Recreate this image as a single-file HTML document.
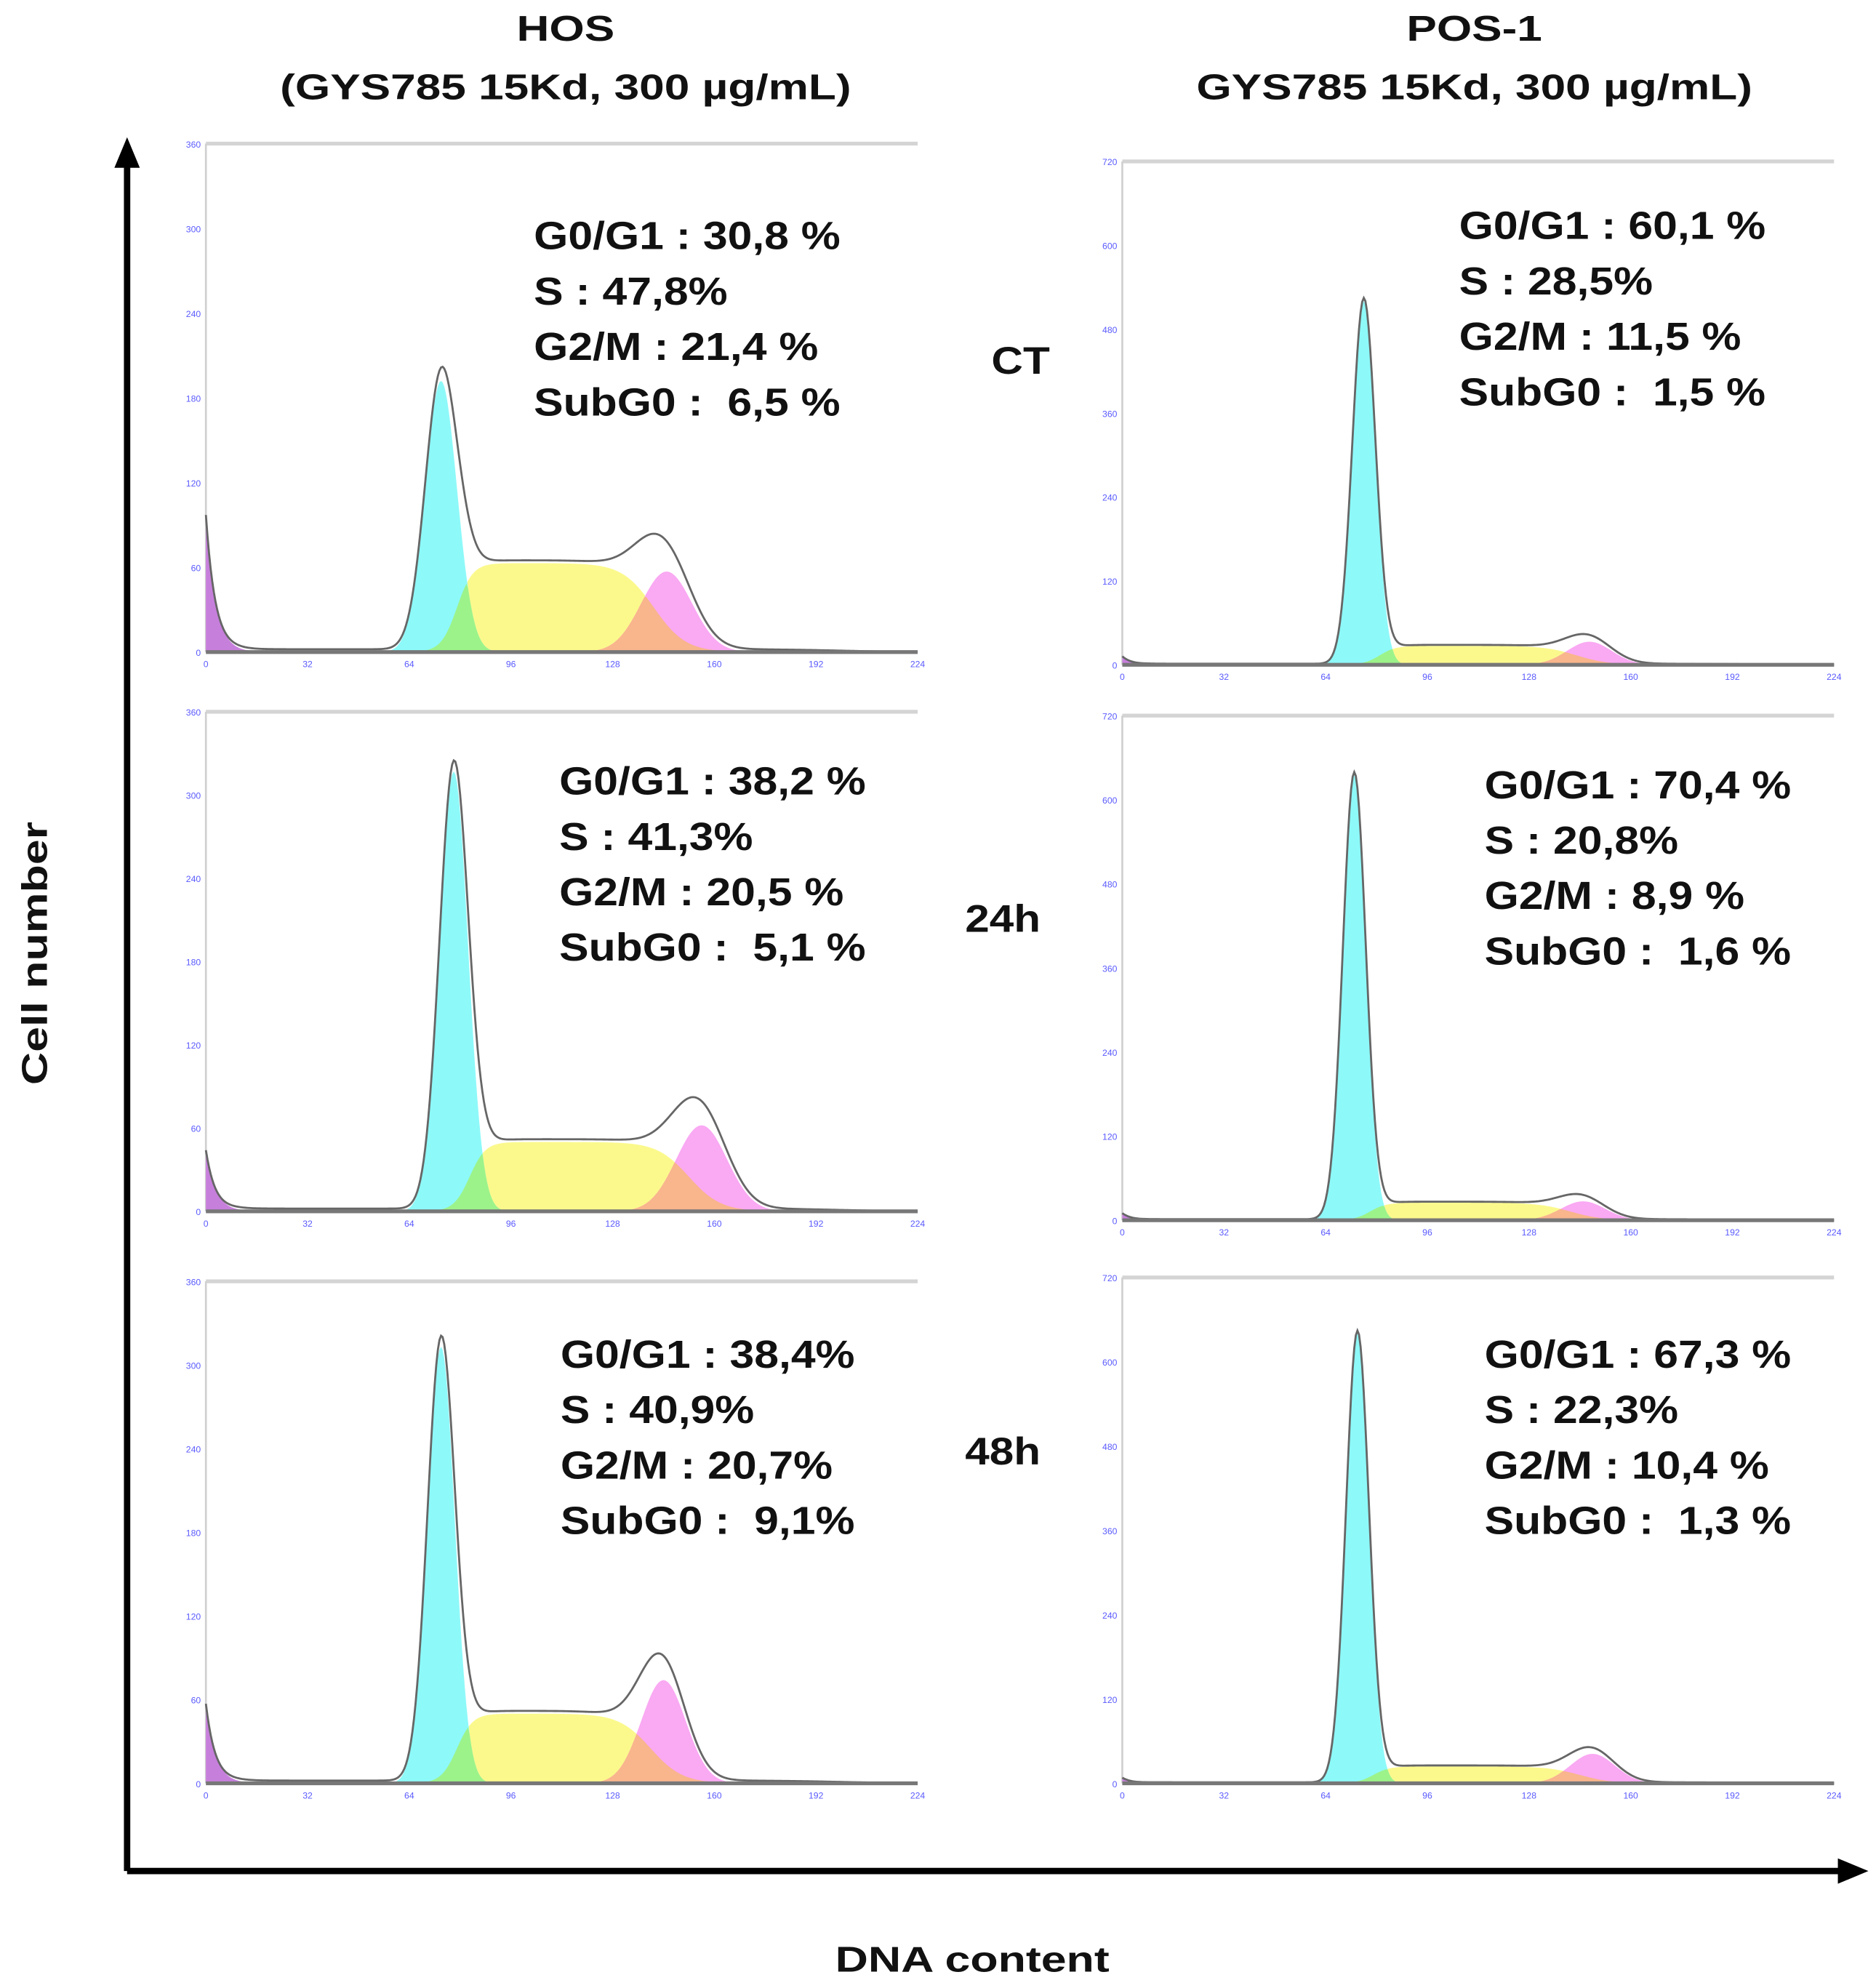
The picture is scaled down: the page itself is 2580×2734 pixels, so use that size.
<!DOCTYPE html>
<html><head><meta charset="utf-8"><title>Cell cycle histograms</title>
<style>html,body{margin:0;padding:0;background:#fff}svg{display:block}text{white-space:pre}</style></head>
<body>
<svg id="fig" xmlns="http://www.w3.org/2000/svg" width="2580" height="2734" viewBox="0 0 1476 1564" preserveAspectRatio="none" font-family="Liberation Sans, Arial, sans-serif">
<rect width="1476" height="1564" fill="#fff"/>
<g font-weight="bold" fill="#111" text-anchor="middle" font-size="28">
<text class="st" data-s="1.27" x="445" y="32">HOS</text>
<text class="st" data-s="1.27" x="445" y="78">(GYS785 15Kd, 300 µg/mL)</text>
<text class="st" data-s="1.27" x="1160" y="32">POS-1</text>
<text class="st" data-s="1.27" x="1160" y="78">GYS785 15Kd, 300 µg/mL)</text>
<text class="st" data-s="1.15" x="803" y="294" font-size="30">CT</text>
<text class="st" data-s="1.15" x="789" y="733" font-size="30">24h</text>
<text class="st" data-s="1.15" x="789" y="1152" font-size="30">48h</text>
<text class="st" data-s="1.28" x="765" y="1551">DNA content</text>
<text class="st" data-s="1.28" transform="translate(37,750) rotate(-90)">Cell number</text>
</g>
<g stroke="#000" stroke-width="5">
<line x1="100" y1="1472" x2="100" y2="128"/>
<line x1="100" y1="1472" x2="1450" y2="1472"/>
</g>
<polygon points="100,108 90,132 110,132" fill="#000"/>
<polygon points="1470,1472 1446,1462 1446,1482" fill="#000"/>
<g id="panels"></g>
</svg>
<script>
// ---- data (channel 0-224, counts) ----
const panelNames = ['hos-ct','pos1-ct','hos-24h','pos1-24h','hos-48h','pos1-48h'];
const yMax      = [360, 720, 360, 720, 360, 720];
const subG0Peak = [97, 12, 44, 10, 57, 8];
const g1Mean    = [74, 76, 78, 73, 74, 74];
const g1Peak    = [192, 520, 317, 635, 313, 640];
const g1Sd      = [5, 3.6, 4.5, 3.6, 4.3, 3.6];
const sLevel    = [63, 27, 50, 25, 50, 24];
const g2Mean    = [145, 147, 156, 145, 144, 148];
const g2Peak    = [57, 33, 62, 27, 74, 42];
const g2Sd      = [8, 7, 8, 7, 7, 7];
const debris    = [4, 3, 4, 3, 4, 3];
const xTicks = [0, 32, 64, 96, 128, 160, 192, 224];
const statLines = [
 ['G0/G1 : 30,8 %','S : 47,8%','G2/M : 21,4 %','SubG0 :  6,5 %'],
 ['G0/G1 : 60,1 %','S : 28,5%','G2/M : 11,5 %','SubG0 :  1,5 %'],
 ['G0/G1 : 38,2 %','S : 41,3%','G2/M : 20,5 %','SubG0 :  5,1 %'],
 ['G0/G1 : 70,4 %','S : 20,8%','G2/M : 8,9 %','SubG0 :  1,6 %'],
 ['G0/G1 : 38,4%','S : 40,9%','G2/M : 20,7%','SubG0 :  9,1%'],
 ['G0/G1 : 67,3 %','S : 22,3%','G2/M : 10,4 %','SubG0 :  1,3 %']
];
// ---- layout ----
const boxL = [162, 883, 162, 883, 162, 883];
const boxR = [722, 1443, 722, 1443, 722, 1443];
const boxT = [113, 127, 560, 563, 1008, 1005];
const boxB = [513, 523, 953, 960, 1403, 1403];
const statX = [420, 1148, 440, 1168, 441, 1168];
const statY = [185, 177, 614, 617, 1065, 1065];

const NS = 'http://www.w3.org/2000/svg';
const root = document.getElementById('panels');
function mk(tag, attrs, parent){const e=document.createElementNS(NS,tag);for(const k in attrs)e.setAttribute(k,attrs[k]);parent.appendChild(e);return e;}
const sig = z => 1/(1+Math.exp(-z));

panelNames.forEach((name,i)=>{
  const g = mk('g',{},root);
  
  
  const X = c => boxL[i] + c/224*(boxR[i]-boxL[i]);
  const Y = v => boxB[i] - v/yMax[i]*(boxB[i]-boxT[i]);
  const fSub = c => subG0Peak[i]*Math.exp(-c/3);
  const fG1 = c => g1Peak[i]*Math.exp(-0.5*Math.pow((c-g1Mean[i])/g1Sd[i],2));
  const fG2 = c => g2Peak[i]*Math.exp(-0.5*Math.pow((c-g2Mean[i])/g2Sd[i],2));
  const fS = c => sLevel[i]*sig((c-(g1Mean[i]+5))/2.5)*(1-sig((c-(g2Mean[i]-4))/5));
  const cs=[]; for(let c=0;c<=224;c+=0.5) cs.push(c);
  function area(fn,fill,nm){
    let d='M'+X(0)+','+Y(0);
    cs.forEach(c=>{d+=' L'+X(c).toFixed(2)+','+Y(fn(c)).toFixed(2);});
    d+=' L'+X(224)+','+Y(0)+' Z';
    const p=mk('path',{d:d,fill:fill},g);
    
    
  }
  const fr = mk('line',{x1:boxL[i],y1:boxT[i],x2:boxR[i],y2:boxT[i],stroke:'#d4d4d4','stroke-width':3},g);
  
  
  const la = mk('line',{x1:boxL[i],y1:boxT[i],x2:boxL[i],y2:boxB[i],stroke:'#cfcfcf','stroke-width':1.5},g);
  
  
  area(fS,'#fbf98c','s-phase-fill');
  area(fG1,'#8ef9f9','g1-fill');
  area(fG2,'#faa9f3','g2-fill');
  area(fSub,'#c77fdc','subg0-fill');
  area(c=>Math.min(fS(c),fG1(c)),'#9cf38a','g1-s-overlap-fill');
  area(c=>Math.min(fS(c),fG2(c)),'#f9b58c','s-g2-overlap-fill');
  let d='';
  cs.forEach((c,k)=>{const v=fSub(c)+fG1(c)+fS(c)+fG2(c)+debris[i]*sig((c-6)/2)*(1-sig((c-200)/10))*0.5;
    d+=(k?' L':'M')+X(c).toFixed(2)+','+Y(v).toFixed(2);});
  const tl=mk('path',{d:d,fill:'none',stroke:'#666','stroke-width':1.6},g);
  
  
  const bl=mk('line',{x1:boxL[i],y1:boxB[i],x2:boxR[i],y2:boxB[i],stroke:'#777','stroke-width':3},g);
  
  
  xTicks.forEach(t=>{
    const tx=mk('text',{x:X(t),y:boxB[i]+12,'font-size':7,fill:'#5a5aff','text-anchor':'middle'},g);
    
    
    tx.textContent=t;
  });
  for(let k=0;k<=6;k++){
    const v=yMax[i]/6*k;
    const ty=mk('text',{x:boxL[i]-4,y:Y(v)+3,'font-size':7,fill:'#5a5aff','text-anchor':'end'},g);
    
    
    ty.textContent=Math.round(v);
  }
  statLines[i].forEach((s,k)=>{
    const st=mk('text',{x:statX[i],y:statY[i]+k*43.6+11,'font-size':31,'font-weight':'bold',fill:'#111','class':'st','data-s':'1.12'},g);
    
    
    st.textContent=s;
  });
});
document.querySelectorAll('text.st').forEach(t=>{
  const f=parseFloat(t.getAttribute('data-s'));
  const w=t.getComputedTextLength();
  if(w>0){t.setAttribute('textLength',(w*f).toFixed(1));t.setAttribute('lengthAdjust','spacingAndGlyphs');}
});
</script>
</body></html>
